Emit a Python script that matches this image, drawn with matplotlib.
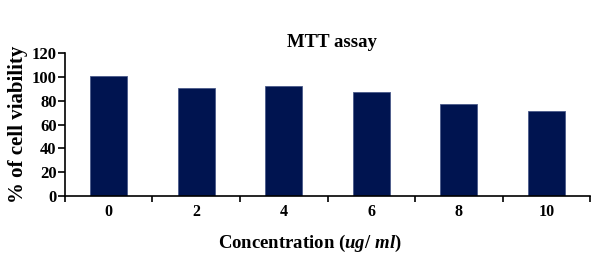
import numpy as np
import matplotlib.pyplot as plt

concentrations = ['0', '2', '4', '6', '8', '10']
viability = [101, 91, 92, 87, 77, 71]

plt.rcParams['font.family'] = 'Liberation Serif'
plt.rcParams['font.weight'] = 'bold'
plt.rcParams['mathtext.fontset'] = 'custom'
plt.rcParams['mathtext.it'] = 'Liberation Serif:bold:italic'
plt.rcParams['mathtext.rm'] = 'Liberation Serif:bold'

fig = plt.figure(figsize=(5.93, 2.56), dpi=100)
ax = fig.add_axes([0.1096, 0.234, 0.8854, 0.559])

x = np.arange(len(concentrations))
ax.bar(x, viability, width=0.42, color='#001450', edgecolor='#4a5a8a', linewidth=0.6)

ax.set_xlim(-0.5, len(concentrations) - 0.5)
ax.set_ylim(0, 120)
ax.set_yticks(range(0, 121, 20))
ax.set_xticks(x)
ax.set_xticklabels(concentrations, fontsize=11.5, fontweight='bold')
ax.set_xticks(np.arange(-0.5, len(concentrations)), minor=True)
ax.tick_params(axis='x', which='major', length=0, pad=6)
ax.tick_params(axis='x', which='minor', length=4, width=1.2, direction='out')
ax.tick_params(axis='y', length=5, width=1.2, labelsize=12, pad=1)
for lab in ax.get_yticklabels():
    lab.set_fontweight('bold')

ax.spines['top'].set_visible(False)
ax.spines['right'].set_visible(False)
ax.spines['left'].set_linewidth(1.2)
ax.spines['bottom'].set_linewidth(1.2)

ax.set_ylabel('% of cell viability', fontsize=15, fontweight='bold')
ax.yaxis.set_label_coords(-0.07, 0.5)
ax.set_xlabel(r'Concentration ($\mathit{ug/\ ml}$)', fontsize=13.5, fontweight='bold')
ax.xaxis.set_label_coords(0.467, -0.26)
ax.set_title('MTT assay', fontsize=13.5, fontweight='bold', pad=4, x=0.509)

fig.savefig('out.png', dpi=100)
